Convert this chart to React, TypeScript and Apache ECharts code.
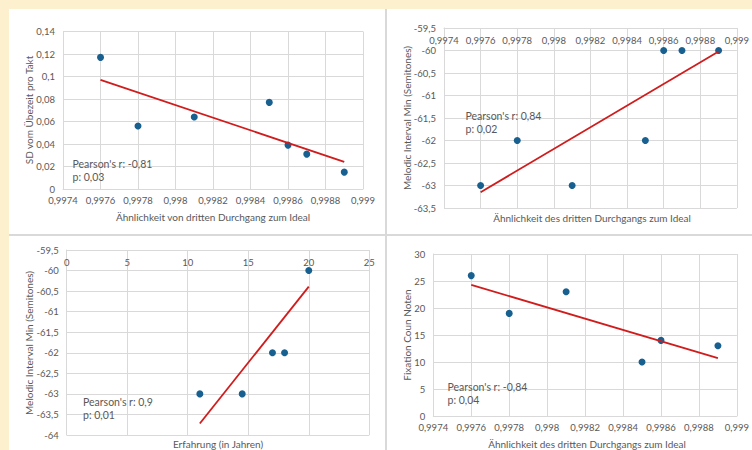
import React, { useEffect, useRef } from "react";
import * as echarts from "echarts";

// Panel 1: similarity vs SD of practice time per beat
const simX1 = [0.9976, 0.9978, 0.9981, 0.9985, 0.9986, 0.9987, 0.9989];
const sdTakt = [0.117, 0.056, 0.064, 0.077, 0.039, 0.031, 0.015];
const trend1X = [0.9976, 0.9989];
const trend1Y = [0.097, 0.0242];

// Panel 2: similarity vs melodic interval min
const simX2 = [0.9976, 0.9978, 0.9981, 0.9985, 0.9986, 0.9987, 0.9989];
const intervalMin2 = [-63, -62, -63, -62, -60, -60, -60];
const trend2X = [0.9976, 0.9989];
const trend2Y = [-63.15, -60.02];

// Panel 3: experience vs melodic interval min
const experience = [11, 14.5, 17, 18, 20];
const intervalMin3 = [-63, -63, -62, -62, -60];
const trend3X = [11, 20];
const trend3Y = [-63.72, -60.39];

// Panel 4: similarity vs fixation count
const simX4 = [0.9976, 0.9978, 0.9981, 0.9985, 0.9986, 0.9989];
const fixation = [26, 19, 23, 10, 14, 13];
const trend4X = [0.9976, 0.9989];
const trend4Y = [24.3, 10.7];

const annotations = [
  "Pearson's r: -0,81\np: 0,03",
  "Pearson's r: 0,84\np: 0,02",
  "Pearson's r: 0,9\np: 0,01",
  "Pearson's r: -0,84\np: 0,04",
];

const FONT = "Lato";
const GRAY = "#595959";
const GRID = "#d9d9d9";
const BLUE = "#18608f";
const RED = "#d01c1c";

const fmt = (d: number) => (v: number) =>
  parseFloat(v.toFixed(d)).toString().replace(".", ",");

const pairs = (xs: number[], ys: number[]) => xs.map((x, i) => [x, ys[i]]);

export default function App() {
  const ref = useRef<HTMLDivElement>(null);
  useEffect(() => {
    if (!ref.current) return;
    const chart = echarts.init(ref.current, null, { renderer: "svg" });

    const labelStyle = { color: GRAY, fontSize: 9.5, fontFamily: FONT };
    const baseAxis = (extra: any) => ({
      type: "value",
      axisLine: { show: true, onZero: false, lineStyle: { color: GRID } },
      axisTick: { show: false },
      splitLine: { show: true, lineStyle: { color: GRID, width: 1 } },
      ...extra,
    });

    const simXAxis = (gridIndex: number, pos: "top" | "bottom") =>
      baseAxis({
        gridIndex,
        position: pos,
        min: 0.9974,
        max: 0.999,
        interval: 0.0002,
        axisLabel: {
          ...labelStyle,
          formatter: fmt(4),
          inside: pos === "top",
          margin: pos === "top" ? 7 : 6,
          showMinLabel: true,
          showMaxLabel: true,
        },
      });

    const scatter = (xi: number, xs: number[], ys: number[]) => ({
      type: "scatter",
      xAxisIndex: xi,
      yAxisIndex: xi,
      data: pairs(xs, ys),
      symbolSize: 7,
      itemStyle: { color: BLUE, opacity: 1 },
      z: 3,
    });
    const trend = (xi: number, xs: number[], ys: number[]) => ({
      type: "line",
      xAxisIndex: xi,
      yAxisIndex: xi,
      data: pairs(xs, ys),
      showSymbol: false,
      symbol: "none",
      lineStyle: { color: RED, width: 1.8 },
      z: 4,
    });

    const nameText = (x: number, y: number, text: string, rotate = false) => ({
      type: "text",
      x,
      y,
      rotation: rotate ? Math.PI / 2 : 0,
      style: {
        text,
        fill: GRAY,
        fontSize: 10,
        fontFamily: FONT,
        align: "center",
        verticalAlign: "middle",
      },
      z: 10,
    });
    const annText = (x: number, y: number, text: string) => ({
      type: "text",
      x,
      y,
      style: {
        text,
        fill: GRAY,
        fontSize: 10.5,
        fontFamily: FONT,
        align: "left",
        verticalAlign: "top",
        lineHeight: 13,
      },
      z: 10,
    });

    chart.setOption({
      animation: false,
      backgroundColor: "#fdf0cf",
      grid: [
        { left: 63, top: 31.5, width: 300, height: 157.5 },
        { left: 444, top: 28, width: 296, height: 180 },
        { left: 66.7, top: 250, width: 302.6, height: 185 },
        { left: 433.3, top: 254, width: 307.4, height: 162 },
      ],
      xAxis: [
        simXAxis(0, "bottom"),
        simXAxis(1, "top"),
        baseAxis({
          gridIndex: 2,
          position: "top",
          min: 0,
          max: 25,
          interval: 5,
          axisLabel: { ...labelStyle, inside: true, margin: 7 },
        }),
        simXAxis(3, "bottom"),
      ],
      yAxis: [
        baseAxis({
          gridIndex: 0,
          min: 0,
          max: 0.14,
          interval: 0.02,
          axisLabel: { ...labelStyle, formatter: fmt(2), margin: 8 },
        }),
        baseAxis({
          gridIndex: 1,
          min: -63.5,
          max: -59.5,
          interval: 0.5,
          axisLabel: { ...labelStyle, formatter: fmt(1), margin: 8 },
        }),
        baseAxis({
          gridIndex: 2,
          min: -64,
          max: -59.5,
          interval: 0.5,
          axisLabel: { ...labelStyle, formatter: fmt(1), margin: 8 },
        }),
        baseAxis({
          gridIndex: 3,
          min: 0,
          max: 30,
          interval: 5,
          axisLabel: { ...labelStyle, margin: 8 },
        }),
      ],
      series: [
        scatter(0, simX1, sdTakt),
        trend(0, trend1X, trend1Y),
        scatter(1, simX2, intervalMin2),
        trend(1, trend2X, trend2Y),
        scatter(2, experience, intervalMin3),
        trend(2, trend3X, trend3Y),
        scatter(3, simX4, fixation),
        trend(3, trend4X, trend4Y),
      ],
      graphic: [
        { type: "rect", shape: { x: 9, y: 9, width: 743, height: 441 }, style: { fill: "#ffffff" }, z: -10, silent: true },
        { type: "line", shape: { x1: 386, y1: 9, x2: 386, y2: 450 }, style: { stroke: GRID, lineWidth: 2 }, z: -9 },
        { type: "line", shape: { x1: 9, y1: 235, x2: 752, y2: 235 }, style: { stroke: GRID, lineWidth: 2 }, z: -9 },
        nameText(213, 217, "Ähnlichkeit von dritten Durchgang zum Ideal"),
        nameText(29, 110, "SD vom Übezeit pro Takt", true),
        nameText(592, 218, "Ähnlichkeit des dritten Durchgangs zum Ideal"),
        nameText(407, 118, "Melodic Interval Min (Semitones)", true),
        nameText(218, 444, "Erfahrung (in Jahren)"),
        nameText(29, 343, "Melodic Interval Min (Semitones)", true),
        nameText(587, 444, "Ähnlichkeit des dritten Durchgangs zum Ideal"),
        nameText(407, 335, "Fixation Coun Noten", true),
        annText(72.5, 157.5, annotations[0]),
        annText(465.5, 109.5, annotations[1]),
        annText(83, 395, annotations[2]),
        annText(447.5, 380, annotations[3]),
      ],
    });
    return () => chart.dispose();
  }, []);
  return (
    <div
      ref={ref}
      style={{ position: "absolute", left: 0, top: 0, width: 752, height: 450 }}
    />
  );
}
